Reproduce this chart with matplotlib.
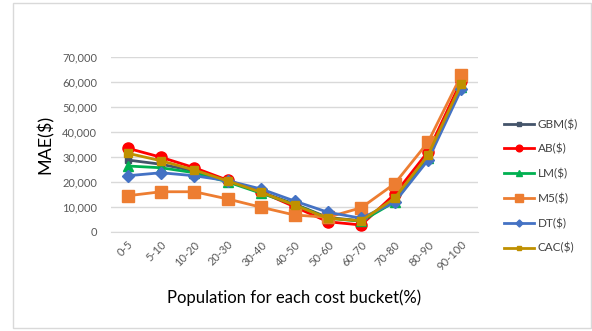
import matplotlib
matplotlib.use("Agg")
import matplotlib.pyplot as plt
from matplotlib.patches import Rectangle
from matplotlib.ticker import FuncFormatter, MultipleLocator

plt.rcParams['font.family'] = ['Lato', 'DejaVu Sans']

buckets = ["0-5", "5-10", "10-20", "20-30", "30-40", "40-50",
           "50-60", "60-70", "70-80", "80-90", "90-100"]

gbm = [28800, 27100, 24400, 20500, 16000, 11200, 5800, 4500, 13000, 30000, 58500]
ab  = [33500, 29900, 25700, 20700, 16000, 10100, 4100, 2800, 15100, 32100, 60500]
lm  = [26400, 25700, 23700, 20000, 15500, 11000, 5500, 4300, 12000, 29500, 58000]
m5  = [14500, 16100, 16100, 13200,  9900,  6800, 5900, 9700, 19300, 35900, 62700]
dt  = [22500, 23700, 22500, 20500, 17200, 12400, 7900, 5500, 11900, 28700, 57100]
cac = [31500, 28500, 24800, 20400, 15900, 10800, 5500, 4500, 13500, 30700, 59200]

series = [
    ("GBM($)", gbm, "#44546A", "s", 5),
    ("AB($)",  ab,  "#FF0000", "o", 8),
    ("LM($)",  lm,  "#00B050", "^", 7),
    ("M5($)",  m5,  "#ED7D31", "s", 9),
    ("DT($)",  dt,  "#4472C4", "D", 6),
    ("CAC($)", cac, "#BF9000", "s", 6),
]

fig = plt.figure(figsize=(5.92, 3.31), dpi=100)
fig.patches.append(Rectangle((13 / 592, 3 / 331), 578 / 592, 325 / 331,
                             transform=fig.transFigure, fill=False,
                             edgecolor="#D9D9D9", linewidth=1))

ax = fig.add_axes([111 / 592, 1 - 232 / 331, 367 / 592, 175 / 331])
x = list(range(len(buckets)))
handles = []
for name, vals, color, marker, ms in series:
    h, = ax.plot(x, vals, color=color, marker=marker, markersize=ms,
                 linewidth=2, label=name)
    handles.append(h)

ax.set_xlim(-0.5, len(buckets) - 0.5)
ax.set_ylim(0, 70000)
ax.yaxis.set_major_locator(MultipleLocator(10000))
ax.yaxis.set_major_formatter(FuncFormatter(lambda v, p: f"{int(v):,}"))
ax.grid(axis="y", color="#D9D9D9", linewidth=1)
ax.set_axisbelow(True)
for s in ["top", "right", "left"]:
    ax.spines[s].set_visible(False)
ax.spines["bottom"].set_color("#D9D9D9")
ax.tick_params(axis="both", length=0, colors="#595959", labelsize=8)
ax.tick_params(axis="y", pad=10)
ax.tick_params(axis="x", pad=5)
ax.set_xticks(x)
ax.set_xticklabels(buckets, rotation=45, ha="right", rotation_mode="anchor")

ax.set_ylabel("MAE($)", fontsize=13, color="black", labelpad=6)
ax.set_xlabel("Population for each cost bucket(%)", fontsize=12,
              color="black", labelpad=12)

fig.legend(handles=handles, loc="upper left",
           bbox_to_anchor=(493 / 592, 1 - 108 / 331), frameon=False,
           fontsize=8.5, handlelength=2.6, labelspacing=1.15,
           handletextpad=0.3, labelcolor="#404040", markerscale=0.6)

fig.savefig("out.png", dpi=100)
